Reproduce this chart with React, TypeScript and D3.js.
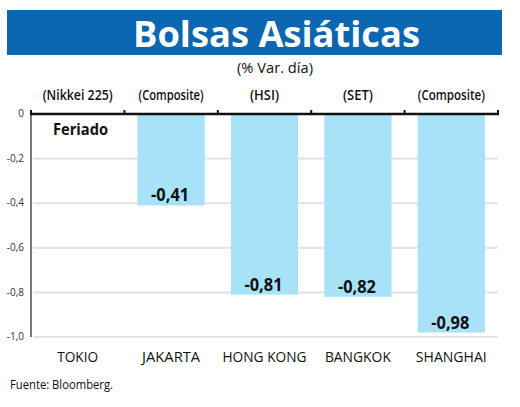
import { useEffect, useRef } from 'react';
import * as d3 from 'd3';

const cities = ['TOKIO', 'JAKARTA', 'HONG KONG', 'BANGKOK', 'SHANGHAI'];
const indexes = ['(Nikkei 225)', '(Composite)', '(HSI)', '(SET)', '(Composite)'];
const changes: (number | null)[] = [null, -0.41, -0.81, -0.82, -0.98];
const valueLabels = ['', '-0,41', '-0,81', '-0,82', '-0,98'];
const yTicks = [0, -0.2, -0.4, -0.6, -0.8, -1.0];

// rough widths of the condensed original lettering
const cityWidths = [41, 58, 84, 66, 71];
const indexWidths = [70, 65, 29, 30, 67];

const font = '"Open Sans", sans-serif';

const App = () => {
  const ref = useRef<SVGSVGElement>(null);

  useEffect(() => {
    if (!ref.current) return;
    const svg = d3.select(ref.current);
    svg.selectAll('*').remove();

    const width = 520;
    const height = 407;
    svg.attr('width', width).attr('height', height);

    svg.append('rect').attr('width', width).attr('height', height).attr('fill', '#fff');

    // title band
    svg.append('rect')
      .attr('x', 7).attr('y', 10).attr('width', 495).attr('height', 45)
      .attr('fill', '#0b67b2');
    svg.append('text')
      .attr('x', 133).attr('y', 47)
      .attr('textLength', 287).attr('lengthAdjust', 'spacingAndGlyphs')
      .attr('font-family', font).attr('font-weight', 700).attr('font-size', 35)
      .attr('fill', '#fff')
      .text('Bolsas Asiáticas');
    svg.append('text')
      .attr('x', 237).attr('y', 73)
      .attr('textLength', 76).attr('lengthAdjust', 'spacingAndGlyphs')
      .attr('font-family', font).attr('font-size', 14).attr('fill', '#111')
      .text('(% Var. día)');

    const x = d3.scaleBand<string>().domain(cities).range([31, 498]);
    const y = d3.scaleLinear().domain([-1, 0]).range([337, 114]);
    const barW = x.bandwidth() * 0.72;

    // gridlines
    svg.append('g').selectAll('line')
      .data(yTicks.filter(t => t !== 0))
      .join('line')
      .attr('x1', 33).attr('x2', 498)
      .attr('y1', d => y(d)).attr('y2', d => y(d))
      .attr('stroke', '#e2e2e2').attr('stroke-width', 2);

    // tick labels
    svg.append('g').selectAll('text')
      .data(yTicks)
      .join('text')
      .attr('x', 24).attr('y', d => y(d)).attr('dy', '0.32em')
      .attr('text-anchor', 'end')
      .attr('font-family', font).attr('font-size', 10).attr('fill', '#333')
      .text(d => d3.format('.1f')(d).replace('.', ',').replace('0,0', '0').replace('−', '-'));

    // bars
    const data = cities.map((c, i) => ({ city: c, value: changes[i], label: valueLabels[i] }));
    svg.append('g').selectAll('rect')
      .data(data.filter(d => d.value !== null))
      .join('rect')
      .attr('x', d => x(d.city)! + (x.bandwidth() - barW) / 2)
      .attr('y', y(0))
      .attr('width', barW)
      .attr('height', d => y(d.value as number) - y(0))
      .attr('fill', '#a8e2f8');

    svg.append('g').selectAll('text')
      .data(data.filter(d => d.value !== null))
      .join('text')
      .attr('x', d => x(d.city)! + x.bandwidth() / 2 - 1)
      .attr('y', d => y(d.value as number) - 4)
      .attr('text-anchor', 'middle')
      .attr('textLength', 38).attr('lengthAdjust', 'spacingAndGlyphs')
      .attr('font-family', font).attr('font-weight', 700).attr('font-size', 17)
      .attr('fill', '#111')
      .text(d => d.label);

    svg.append('text')
      .attr('x', 53).attr('y', 135)
      .attr('textLength', 55).attr('lengthAdjust', 'spacingAndGlyphs')
      .attr('font-family', font).attr('font-weight', 700).attr('font-size', 16)
      .attr('fill', '#111')
      .text('Feriado');

    // left axis
    svg.append('line')
      .attr('x1', 31).attr('x2', 31).attr('y1', y(0)).attr('y2', y(-1))
      .attr('stroke', '#7a7a7a').attr('stroke-width', 2);

    // zero line with band ticks
    svg.append('line')
      .attr('x1', 30).attr('x2', 499).attr('y1', y(0)).attr('y2', y(0))
      .attr('stroke', '#111').attr('stroke-width', 2.5);
    const bounds = cities.map(c => x(c)!).concat([x.range()[1]]);
    svg.append('g').selectAll('line')
      .data(bounds)
      .join('line')
      .attr('x1', d => d).attr('x2', d => d)
      .attr('y1', y(0) - 4).attr('y2', y(0) + 1)
      .attr('stroke', '#111').attr('stroke-width', 2);

    // index names above
    svg.append('g').selectAll('text')
      .data(indexes)
      .join('text')
      .attr('x', (_, i) => x(cities[i])! + x.bandwidth() / 2)
      .attr('y', 100)
      .attr('text-anchor', 'middle')
      .attr('textLength', (_, i) => indexWidths[i]).attr('lengthAdjust', 'spacingAndGlyphs')
      .attr('font-family', font).attr('font-weight', 600).attr('font-size', 14)
      .attr('fill', '#111')
      .text(d => d);

    // city names below
    svg.append('g').selectAll('text')
      .data(cities)
      .join('text')
      .attr('x', d => x(d)! + x.bandwidth() / 2)
      .attr('y', 362)
      .attr('text-anchor', 'middle')
      .attr('textLength', (_, i) => cityWidths[i]).attr('lengthAdjust', 'spacingAndGlyphs')
      .attr('font-family', font).attr('font-size', 15).attr('fill', '#111')
      .text(d => d);

    svg.append('text')
      .attr('x', 10).attr('y', 389)
      .attr('textLength', 103).attr('lengthAdjust', 'spacingAndGlyphs')
      .attr('font-family', font).attr('font-size', 13.5).attr('fill', '#111')
      .text('Fuente: Bloomberg.');
  }, []);

  return (
    <div style={{ position: 'fixed', left: 0, top: 0 }}>
      <svg ref={ref} style={{ display: 'block' }} />
    </div>
  );
};

export default App;
